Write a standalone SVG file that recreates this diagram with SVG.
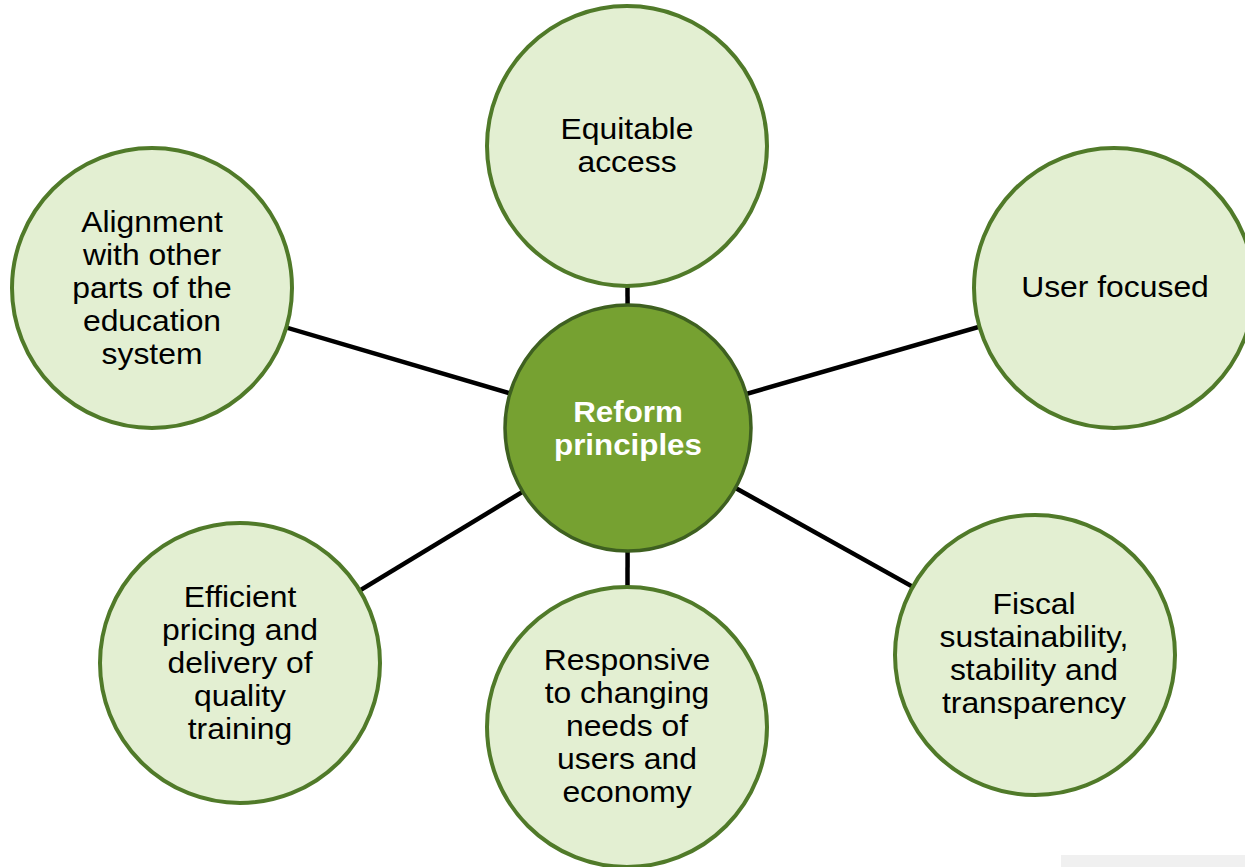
<svg xmlns="http://www.w3.org/2000/svg" width="1245" height="867" viewBox="0 0 1245 867">
<style>
.node{fill:#e3efd2;stroke:#507a29;stroke-width:4}
.hub{fill:#76a131;stroke:#3e6020;stroke-width:3.5}
.t{font-family:"Liberation Sans",Arial,sans-serif;font-size:29.5px;fill:#000;text-anchor:middle}
.th{font-family:"Liberation Sans",Arial,sans-serif;font-size:29px;font-weight:bold;fill:#fff;text-anchor:middle}
.c{stroke:#000;stroke-width:4.5;fill:none}
</style>
<rect x="0" y="0" width="1245" height="867" fill="#fff"/>
<rect x="1061" y="855" width="184" height="12" fill="#f0f0f0"/>
<g id="connectors">
<line class="c" x1="628" y1="428" x2="627" y2="146"/>
<line class="c" x1="628" y1="428" x2="1114" y2="288"/>
<line class="c" x1="628" y1="428" x2="152" y2="288"/>
<line class="c" x1="628" y1="428" x2="1035" y2="655"/>
<line class="c" x1="628" y1="428" x2="240" y2="663"/>
<line class="c" x1="628" y1="428" x2="627" y2="727"/>
</g>
<g id="equitable">
<circle class="node" cx="627" cy="146" r="140"/>
<g transform="translate(627 0) scale(1.08 1)">
<text class="t" x="0" y="139">Equitable</text>
<text class="t" x="0" y="172">access</text>
</g>
</g>
<g id="user">
<circle class="node" cx="1114" cy="288" r="140"/>
<g transform="translate(1115 0) scale(1.08 1)">
<text class="t" x="0" y="297">User focused</text>
</g>
</g>
<g id="alignment">
<circle class="node" cx="152" cy="288" r="140"/>
<g transform="translate(152 0) scale(1.08 1)">
<text class="t" x="0" y="232">Alignment</text>
<text class="t" x="0" y="265">with other</text>
<text class="t" x="0" y="298">parts of the</text>
<text class="t" x="0" y="331">education</text>
<text class="t" x="0" y="364">system</text>
</g>
</g>
<g id="fiscal">
<circle class="node" cx="1035" cy="655" r="140"/>
<g transform="translate(1034 0) scale(1.08 1)">
<text class="t" x="0" y="614">Fiscal</text>
<text class="t" x="0" y="647">sustainability,</text>
<text class="t" x="0" y="680">stability and</text>
<text class="t" x="0" y="713">transparency</text>
</g>
</g>
<g id="efficient">
<circle class="node" cx="240" cy="663" r="140"/>
<g transform="translate(240 0) scale(1.08 1)">
<text class="t" x="0" y="607">Efficient</text>
<text class="t" x="0" y="640">pricing and</text>
<text class="t" x="0" y="673">delivery of</text>
<text class="t" x="0" y="706">quality</text>
<text class="t" x="0" y="739">training</text>
</g>
</g>
<g id="responsive">
<circle class="node" cx="627" cy="727" r="140"/>
<g transform="translate(627 0) scale(1.08 1)">
<text class="t" x="0" y="670">Responsive</text>
<text class="t" x="0" y="703">to changing</text>
<text class="t" x="0" y="736">needs of</text>
<text class="t" x="0" y="769">users and</text>
<text class="t" x="0" y="802">economy</text>
</g>
</g>
<g id="hub">
<circle class="hub" cx="628" cy="428" r="123"/>
<g transform="translate(628 0) scale(1.08 1)">
<text class="th" x="0" y="422">Reform</text>
<text class="th" x="0" y="455">principles</text>
</g>
</g>
</svg>
